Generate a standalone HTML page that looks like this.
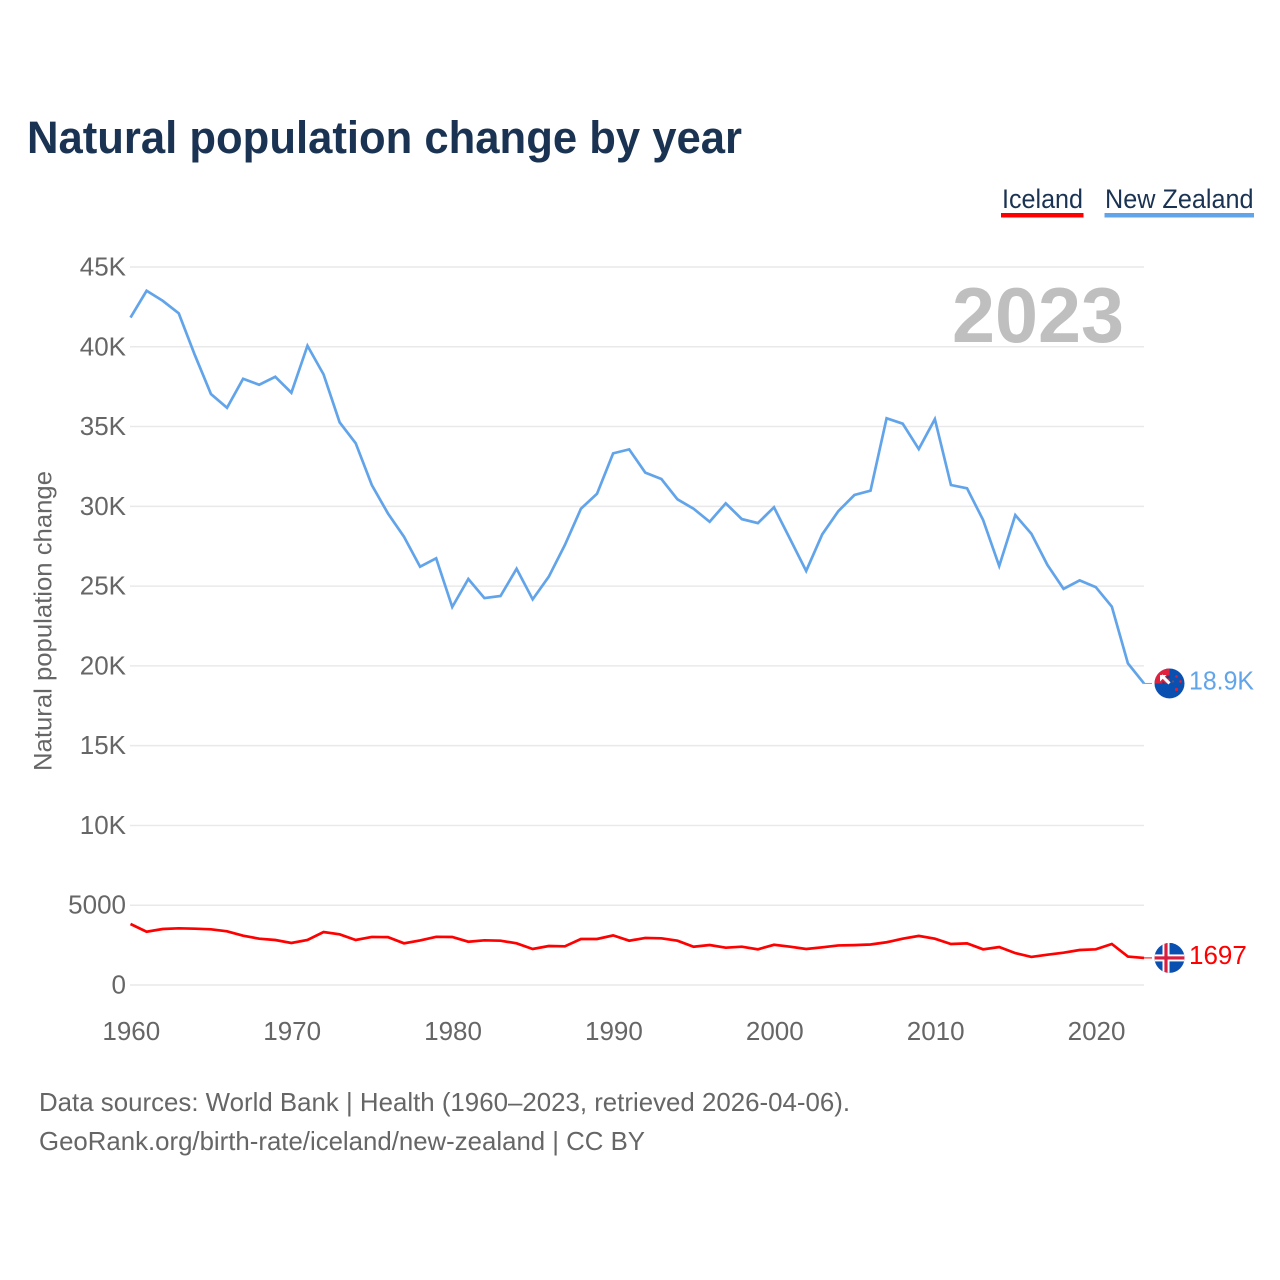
<!DOCTYPE html>
<html lang="en">
<head>
<meta charset="utf-8">
<title>Natural population change by year</title>
<style>
html,body{margin:0;padding:0;background:#fff;width:1280px;height:1280px;overflow:hidden}
svg{display:block;font-family:"Liberation Sans",Arial,sans-serif}
</style>
</head>
<body>
<svg id="chart" width="1280" height="1280" viewBox="0 0 1280 1280" xmlns="http://www.w3.org/2000/svg">
  <defs>
    <clipPath id="flag-clip"><circle cx="0" cy="0" r="15"></circle></clipPath>
  </defs>
  <rect width="1280" height="1280" fill="#fff"></rect>
  <text x="27" y="153" font-size="45" font-weight="700" fill="#1a3352" textLength="715" lengthAdjust="spacingAndGlyphs">Natural population change by year</text>

  <g>
    <text x="1002" y="208" font-size="27" fill="#1a3352" textLength="81" lengthAdjust="spacingAndGlyphs">Iceland</text>
    <rect x="1001" y="213" width="82.5" height="4.5" fill="#ff0000"></rect>
  </g>
  <g>
    <text x="1105" y="208" font-size="27" fill="#1a3352" textLength="148.5" lengthAdjust="spacingAndGlyphs">New Zealand</text>
    <rect x="1104.5" y="213" width="149.5" height="4.5" fill="#62a4ea"></rect>
  </g>

  <g id="grid"></g>
  <g id="y-ticks"></g>
  <g id="x-ticks"></g>

  <text transform="translate(51.5 771) rotate(-90)" font-size="25" fill="#666666" textLength="300" lengthAdjust="spacingAndGlyphs">Natural population change</text>
  <text id="year-watermark" x="952" y="342" font-size="78" font-weight="700" fill="#bfbfbf" textLength="172" lengthAdjust="spacingAndGlyphs">2023</text>

  <g id="series"></g>

  <g id="flag-nz">
    <g clip-path="url(#flag-clip)">
      <rect x="-15" y="-15" width="30" height="30" fill="#0a50b0"></rect>
      <rect x="-15" y="-15" width="15" height="15" fill="#e0223c"></rect>
      <path d="M-8 -8 L0 0" stroke="#fff" stroke-width="3"></path>
      <path d="M-9.5 -8.5 H-3 L-9.5 -2 Z" fill="#fff"></path>
      <path d="M-3 -8 H0 V-5 L-3 -5 Z" fill="#23407f"></path>
      <path d="M-7 -2.5 L-4 0 H-7 Z" fill="#23407f"></path>
      <circle cx="3.5" cy="-2" r="1.1" fill="#7a4a5a"></circle>
      <circle cx="7" cy="-7" r="1.3" fill="#d9203a"></circle>
      <circle cx="11" cy="-2" r="1.3" fill="#d9203a"></circle>
      <circle cx="7" cy="6" r="1.6" fill="#d9203a"></circle>
    </g>
  </g>
  <g id="flag-is">
    <g clip-path="url(#flag-clip)">
      <rect x="-15" y="-15" width="30" height="30" fill="#0a50b0"></rect>
      <rect x="-15" y="-3.5" width="30" height="7" fill="#fff"></rect>
      <rect x="-7" y="-15" width="7" height="30" fill="#fff"></rect>
      <rect x="-15" y="-1.6" width="30" height="3.2" fill="#d72040"></rect>
      <rect x="-5.1" y="-15" width="3.2" height="30" fill="#d72040"></rect>
    </g>
  </g>

  <text x="39" y="1111" font-size="26" fill="#666666" textLength="811" lengthAdjust="spacingAndGlyphs">Data sources: World Bank | Health (1960–2023, retrieved 2026-04-06).</text>
  <text x="39" y="1150" font-size="26" fill="#666666" textLength="606" lengthAdjust="spacingAndGlyphs">GeoRank.org/birth-rate/iceland/new-zealand | CC BY</text>
</svg>

<script>
const years = [1960,1961,1962,1963,1964,1965,1966,1967,1968,1969,1970,1971,1972,1973,1974,1975,1976,1977,1978,1979,1980,1981,1982,1983,1984,1985,1986,1987,1988,1989,1990,1991,1992,1993,1994,1995,1996,1997,1998,1999,2000,2001,2002,2003,2004,2005,2006,2007,2008,2009,2010,2011,2012,2013,2014,2015,2016,2017,2018,2019,2020,2021,2022,2023];
const newZealandValues = [41830,43510,42885,42095,39480,37040,36180,37995,37620,38120,37120,40065,38270,35265,33950,31335,29560,28095,26215,26740,23690,25445,24250,24380,26090,24170,25590,27575,29850,30790,33320,33570,32110,31710,30440,29850,29030,30190,29200,28950,29940,27950,25950,28245,29700,30710,30980,35520,35180,33590,35470,31335,31130,29140,26260,29450,28280,26320,24830,25360,24940,23710,20160,18900];
const icelandValues = [3823,3340,3510,3553,3528,3491,3365,3090,2902,2820,2632,2820,3322,3177,2820,3010,3000,2613,2790,3020,3010,2714,2801,2776,2613,2256,2444,2425,2883,2883,3110,2776,2950,2927,2776,2400,2507,2338,2400,2237,2520,2400,2256,2363,2480,2500,2540,2680,2900,3080,2900,2570,2610,2237,2381,2000,1760,1899,2024,2193,2237,2570,1780,1697];
const yTickValues = [0,5000,10000,15000,20000,25000,30000,35000,40000,45000];
const yTickLabels = ["0","5000","10K","15K","20K","25K","30K","35K","40K","45K"];
const xTickValues = [1960,1970,1980,1990,2000,2010,2020];
const xTickLabels = ["1960","1970","1980","1990","2000","2010","2020"];
const newZealandEndLabel = "18.9K";
const icelandEndLabel = "1697";

const SVG_NS = "http://www.w3.org/2000/svg";
const X_LEFT = 130.5, X_RIGHT = 1144, Y_ZERO = 985, Y_TOP = 267;
const xMin = years[0], xMax = years[years.length - 1], yMax = 45000;
function xScale(year) { return X_LEFT + (year - xMin) / (xMax - xMin) * (X_RIGHT - X_LEFT); }
function yScale(value) { return Y_ZERO - value / yMax * (Y_ZERO - Y_TOP); }

const gridGroup = document.getElementById("grid");
const yGroup = document.getElementById("y-ticks");
const xGroup = document.getElementById("x-ticks");
const seriesGroup = document.getElementById("series");
const chart = document.getElementById("chart");

yTickValues.forEach(function (value, i) {
  const line = document.createElementNS(SVG_NS, "line");
  
  
  line.setAttribute("x1", X_LEFT - 0.5);
  line.setAttribute("x2", X_RIGHT);
  line.setAttribute("y1", yScale(value));
  line.setAttribute("y2", yScale(value));
  line.setAttribute("stroke", "#e9e9e9");
  line.setAttribute("stroke-width", "1.5");
  gridGroup.appendChild(line);

  const label = document.createElementNS(SVG_NS, "text");
  
  
  label.setAttribute("x", 126);
  label.setAttribute("y", yScale(value) + 8.5);
  label.setAttribute("text-anchor", "end");
  label.setAttribute("font-size", "26");
  label.setAttribute("fill", "#666666");
  label.textContent = yTickLabels[i];
  yGroup.appendChild(label);
});

xTickValues.forEach(function (value, i) {
  const label = document.createElementNS(SVG_NS, "text");
  
  
  label.setAttribute("x", xScale(value) + 0.8);
  label.setAttribute("y", 1040);
  label.setAttribute("text-anchor", "middle");
  label.setAttribute("font-size", "26");
  label.setAttribute("fill", "#666666");
  label.textContent = xTickLabels[i];
  xGroup.appendChild(label);
});

function pointsFor(values) {
  return values.map(function (v, i) { return xScale(years[i]).toFixed(2) + "," + yScale(v).toFixed(2); }).join(" ");
}

const nzLine = document.createElementNS(SVG_NS, "polyline");


nzLine.setAttribute("points", pointsFor(newZealandValues));
nzLine.setAttribute("fill", "none");
nzLine.setAttribute("stroke", "#62a4ea");
nzLine.setAttribute("stroke-width", "2.7");
seriesGroup.appendChild(nzLine);

const isLine = document.createElementNS(SVG_NS, "polyline");


isLine.setAttribute("points", pointsFor(icelandValues));
isLine.setAttribute("fill", "none");
isLine.setAttribute("stroke", "#ff0000");
isLine.setAttribute("stroke-width", "2.7");
seriesGroup.appendChild(isLine);

const FLAG_X = 1169.5, CONNECTOR_END = 1152, LABEL_X = 1189;
const nzEndY = yScale(newZealandValues[newZealandValues.length - 1]);
const isEndY = yScale(icelandValues[icelandValues.length - 1]);

const nzConnector = document.createElementNS(SVG_NS, "line");


nzConnector.setAttribute("x1", X_RIGHT);
nzConnector.setAttribute("x2", CONNECTOR_END);
nzConnector.setAttribute("y1", nzEndY);
nzConnector.setAttribute("y2", nzEndY);
nzConnector.setAttribute("stroke", "#62a4ea");
nzConnector.setAttribute("stroke-width", "1");
seriesGroup.appendChild(nzConnector);

const isConnector = document.createElementNS(SVG_NS, "line");


isConnector.setAttribute("x1", X_RIGHT);
isConnector.setAttribute("x2", CONNECTOR_END);
isConnector.setAttribute("y1", isEndY);
isConnector.setAttribute("y2", isEndY);
isConnector.setAttribute("stroke", "#ff0000");
isConnector.setAttribute("stroke-width", "1");
seriesGroup.appendChild(isConnector);

document.getElementById("flag-nz").setAttribute("transform", "translate(" + FLAG_X + " " + nzEndY + ")");
document.getElementById("flag-is").setAttribute("transform", "translate(" + FLAG_X + " " + isEndY + ")");

const nzLabel = document.createElementNS(SVG_NS, "text");


nzLabel.setAttribute("x", LABEL_X);
nzLabel.setAttribute("y", nzEndY + 6);
nzLabel.setAttribute("font-size", "26");
nzLabel.setAttribute("fill", "#62a4ea");
nzLabel.setAttribute("textLength", "65");
nzLabel.setAttribute("lengthAdjust", "spacingAndGlyphs");
nzLabel.textContent = newZealandEndLabel;
chart.appendChild(nzLabel);

const isLabel = document.createElementNS(SVG_NS, "text");


isLabel.setAttribute("x", LABEL_X);
isLabel.setAttribute("y", isEndY + 6);
isLabel.setAttribute("font-size", "26");
isLabel.setAttribute("fill", "#ff0000");
isLabel.textContent = icelandEndLabel;
chart.appendChild(isLabel);
</script>
</body>
</html>
